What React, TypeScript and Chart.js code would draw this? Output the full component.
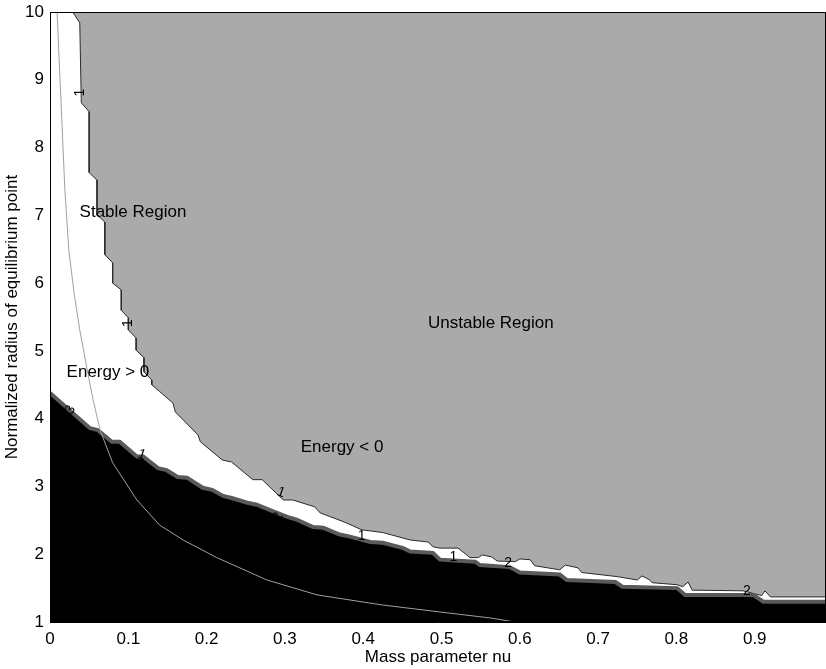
import { useEffect, useRef } from 'react';
import { Chart, registerables } from 'chart.js';
Chart.register(...registerables);

// Upper boundary of the unstable (gray) region
const grayX = [0.029, 0.038, 0.040, 0.050, 0.050, 0.060, 0.060, 0.070, 0.070, 0.080, 0.080, 0.091, 0.091, 0.100, 0.100, 0.110, 0.110, 0.120, 0.120, 0.130, 0.130, 0.140, 0.157, 0.160, 0.189, 0.192, 0.220, 0.232, 0.259, 0.271, 0.298, 0.310, 0.338, 0.345, 0.368, 0.379, 0.398, 0.425, 0.460, 0.483, 0.489, 0.498, 0.521, 0.530, 0.536, 0.547, 0.552, 0.564, 0.571, 0.594, 0.600, 0.613, 0.619, 0.651, 0.658, 0.674, 0.679, 0.724, 0.750, 0.756, 0.766, 0.769, 0.801, 0.808, 0.815, 0.820, 0.885, 0.909, 0.913, 0.920, 0.991];
const grayY = [10, 9.84, 8.66, 8.53, 7.63, 7.52, 7.01, 6.90, 6.42, 6.30, 6.00, 5.90, 5.60, 5.49, 5.31, 5.19, 5.01, 4.90, 4.69, 4.57, 4.50, 4.40, 4.23, 4.10, 3.76, 3.66, 3.39, 3.36, 3.10, 3.10, 2.80, 2.80, 2.70, 2.61, 2.51, 2.46, 2.36, 2.32, 2.21, 2.18, 2.11, 2.09, 2.09, 2.01, 1.95, 1.95, 1.99, 1.96, 1.90, 1.89, 1.93, 1.92, 1.83, 1.77, 1.84, 1.80, 1.73, 1.67, 1.62, 1.68, 1.62, 1.58, 1.55, 1.52, 1.59, 1.47, 1.46, 1.39, 1.46, 1.37, 1.37];

// Upper boundary of the black region
const blackX = [0, 0.051, 0.061, 0.079, 0.089, 0.111, 0.119, 0.138, 0.149, 0.163, 0.175, 0.195, 0.207, 0.221, 0.232, 0.252, 0.264, 0.281, 0.303, 0.315, 0.336, 0.349, 0.370, 0.383, 0.409, 0.425, 0.451, 0.460, 0.489, 0.498, 0.543, 0.549, 0.587, 0.600, 0.651, 0.660, 0.722, 0.731, 0.801, 0.811, 0.898, 0.911, 0.991];
const blackY = [4.38, 3.86, 3.83, 3.66, 3.66, 3.44, 3.44, 3.27, 3.24, 3.14, 3.13, 2.98, 2.95, 2.86, 2.83, 2.76, 2.73, 2.65, 2.55, 2.51, 2.40, 2.39, 2.29, 2.26, 2.18, 2.17, 2.09, 2.04, 2.02, 1.92, 1.89, 1.84, 1.81, 1.73, 1.70, 1.62, 1.59, 1.52, 1.50, 1.40, 1.40, 1.30, 1.30];

// Thin gray curve
const curveX = [0.009, 0.014, 0.019, 0.024, 0.031, 0.038, 0.047, 0.055, 0.064, 0.080, 0.111, 0.140, 0.170, 0.213, 0.277, 0.341, 0.425, 0.511, 0.562, 0.594];
const curveY = [10.0, 8.70, 7.37, 6.49, 5.83, 5.31, 4.75, 4.28, 3.83, 3.35, 2.80, 2.43, 2.21, 1.95, 1.62, 1.40, 1.25, 1.13, 1.06, 1.00];

const xTicks = [0, 0.1, 0.2, 0.3, 0.4, 0.5, 0.6, 0.7, 0.8, 0.9];
const yTicks = [1, 2, 3, 4, 5, 6, 7, 8, 9, 10];

const regionLabels = ['Stable Region', 'Unstable Region', 'Energy > 0', 'Energy < 0'];
const regionLabelX = [0.106, 0.563, 0.074, 0.373];
const regionLabelY = [7.05, 5.41, 4.68, 3.58];

const contourText = ['1', '1', '3', '1', '1', '2', '1', '1', '2', '2'];
const contourX = [0.038, 0.100, 0.026, 0.117, 0.295, 0.291, 0.398, 0.515, 0.585, 0.890];
const contourY = [8.81, 5.41, 4.13, 3.47, 2.91, 2.55, 2.26, 1.96, 1.87, 1.45];
const contourRot = [-90, -90, -60, 20, 20, -60, 0, 0, 0, 0];

const FONT = '"Liberation Sans", Arial, Helvetica, sans-serif';

const pts = (xs: number[], ys: number[]) => xs.map((x, i) => ({ x, y: ys[i] }));

export default function App() {
  const ref = useRef<HTMLCanvasElement>(null);
  useEffect(() => {
    document.body.style.margin = '0';
    const canvas = ref.current!;
    const labelPlugin = {
      id: 'labels',
      afterDatasetsDraw(chart: any) {
        const { ctx, chartArea } = chart;
        const xs = chart.scales.x;
        const ys = chart.scales.y;
        ctx.save();
        ctx.strokeStyle = '#000';
        ctx.lineWidth = 1;
        ctx.strokeRect(chartArea.left + 0.5, chartArea.top + 0.5, chartArea.right - chartArea.left - 1, chartArea.bottom - chartArea.top - 1);
        ctx.fillStyle = '#000';
        ctx.textAlign = 'center';
        ctx.textBaseline = 'middle';
        ctx.font = '17px ' + FONT;
        regionLabels.forEach((t, i) => {
          ctx.fillText(t, xs.getPixelForValue(regionLabelX[i]), ys.getPixelForValue(regionLabelY[i]));
        });
        ctx.font = '14px ' + FONT;
        contourText.forEach((t, i) => {
          ctx.save();
          ctx.translate(xs.getPixelForValue(contourX[i]), ys.getPixelForValue(contourY[i]));
          ctx.rotate((contourRot[i] * Math.PI) / 180);
          ctx.fillText(t, 0, 0);
          ctx.restore();
        });
        ctx.restore();
      },
    };
    const chart = new Chart(canvas, {
      type: 'line',
      data: {
        datasets: [
          {
            data: pts(grayX, grayY),
            borderColor: '#2a2a2a',
            borderWidth: 1,
            backgroundColor: '#aaaaaa',
            fill: 'end',
            pointRadius: 0,
            tension: 0,
            order: 3,
          },
          {
            data: pts(blackX, blackY),
            borderColor: '#5a5a5a',
            borderWidth: 4,
            backgroundColor: '#000000',
            fill: 'start',
            pointRadius: 0,
            tension: 0,
            order: 2,
          },
          {
            data: pts(curveX, curveY),
            borderColor: '#a0a0a0',
            borderWidth: 1,
            fill: false,
            pointRadius: 0,
            tension: 0,
            order: 1,
          },
        ],
      },
      options: {
        animation: false,
        responsive: false,
        devicePixelRatio: 1,
        layout: { padding: { top: 12, right: 0, left: 0, bottom: 0 } },
        plugins: { legend: { display: false }, tooltip: { enabled: false } },
        scales: {
          x: {
            type: 'linear',
            min: 0,
            max: 0.991,
            afterBuildTicks: (s: any) => {
              s.ticks = xTicks.map((v) => ({ value: v }));
            },
            afterFit: (s: any) => {
              s.height = 47;
              s.paddingLeft = 0;
              s.paddingRight = 0;
            },
            grid: { display: false, drawTicks: false },
            border: { display: true, color: '#000' },
            ticks: {
              color: '#000',
              padding: 7,
              maxRotation: 0,
              font: { family: FONT, size: 17 },
              callback: (v: any) => (v === 0 ? '0' : String(Math.round(v * 10) / 10)),
            },
            title: {
              display: true,
              text: 'Mass parameter nu',
              color: '#000',
              font: { family: FONT, size: 17 },
              padding: { top: 0, bottom: 1 },
            },
          },
          y: {
            type: 'linear',
            min: 1,
            max: 10,
            afterBuildTicks: (s: any) => {
              s.ticks = yTicks.map((v) => ({ value: v }));
            },
            afterFit: (s: any) => {
              s.width = 50;
              s.paddingTop = 0;
              s.paddingBottom = 0;
            },
            grid: { display: false, drawTicks: false },
            border: { display: true, color: '#000' },
            ticks: {
              color: '#000',
              padding: 6,
              font: { family: FONT, size: 17 },
              callback: (v: any) => String(v),
            },
            title: {
              display: true,
              text: 'Normalized radius of equilibrium point',
              color: '#000',
              font: { family: FONT, size: 17 },
              padding: { top: 2, bottom: 0 },
            },
          },
        },
      },
      plugins: [labelPlugin],
    });
    return () => chart.destroy();
  }, []);
  return <canvas ref={ref} width={826} height={669} style={{ display: 'block' }} />;
}
